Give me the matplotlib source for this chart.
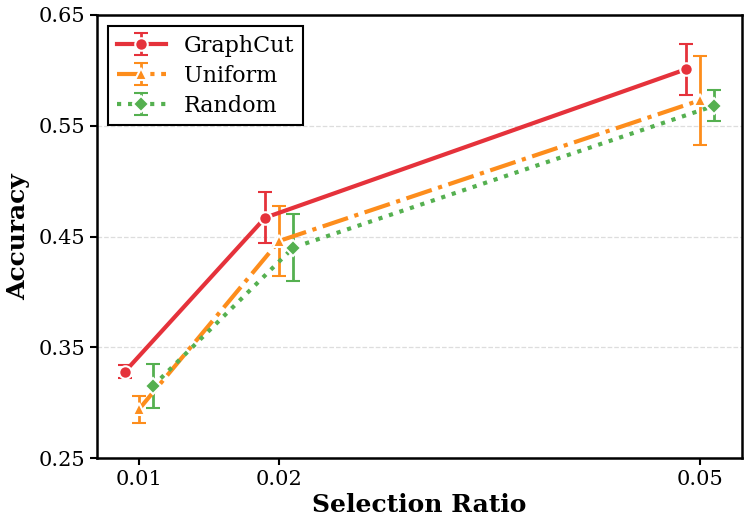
import matplotlib
matplotlib.use("Agg")
import matplotlib.pyplot as plt
import numpy as np

plt.rcParams['font.family'] = ['DejaVu Serif']

ratios = [0.01, 0.02, 0.05]
tick_labels = ["0.01", "0.02", "0.05"]

graphcut_mean = [0.328, 0.467, 0.601]
graphcut_err = [0.006, 0.023, 0.023]
uniform_mean = [0.294, 0.446, 0.573]
uniform_err = [0.012, 0.032, 0.040]
random_mean = [0.315, 0.440, 0.568]
random_err = [0.020, 0.030, 0.014]

series = [
    ("GraphCut", graphcut_mean, graphcut_err, "#e5323b", "o", "-", -0.001),
    ("Uniform", uniform_mean, uniform_err, "#fd8d1c", "^", "-.", 0.0),
    ("Random", random_mean, random_err, "#55b050", "D", ":", 0.001),
]

fig = plt.figure(figsize=(7.45, 5.17), dpi=100)
ax = fig.add_axes([0.130, 0.114, 0.866, 0.857])

for name, m, e, c, mk, ls, off in series:
    x = np.array(ratios) + off
    ax.errorbar(x, m, yerr=e, color=c, marker=mk, linestyle=ls, linewidth=3,
                markersize=9 if mk != "D" else 8, markeredgecolor="white", markeredgewidth=1.5,
                capsize=5, capthick=2, elinewidth=2, label=name, zorder=3)

ax.set_xlim(0.007, 0.053)
ax.set_ylim(0.25, 0.65)
ax.set_xticks(ratios)
ax.set_xticklabels(tick_labels)
ax.set_yticks([0.25, 0.35, 0.45, 0.55, 0.65])
ax.set_yticklabels(["0.25", "0.35", "0.45", "0.55", "0.65"])
ax.tick_params(labelsize=15, width=1.5, length=5)
for s in ax.spines.values():
    s.set_linewidth(1.8)
ax.yaxis.grid(True, linestyle="--", color="#dddddd", linewidth=0.9, zorder=0)
ax.set_axisbelow(True)
ax.set_xlabel("Selection Ratio", fontsize=18, fontweight="bold", labelpad=3)
ax.set_ylabel("Accuracy", fontsize=18, fontweight="bold", labelpad=6)

leg = ax.legend(loc="upper left", fontsize=16, frameon=True, fancybox=False,
                edgecolor="black", framealpha=1, handlelength=2.2,
                borderaxespad=0.5, labelspacing=0.35)
leg.get_frame().set_linewidth(1.5)

fig.savefig("out.png", dpi=100)
